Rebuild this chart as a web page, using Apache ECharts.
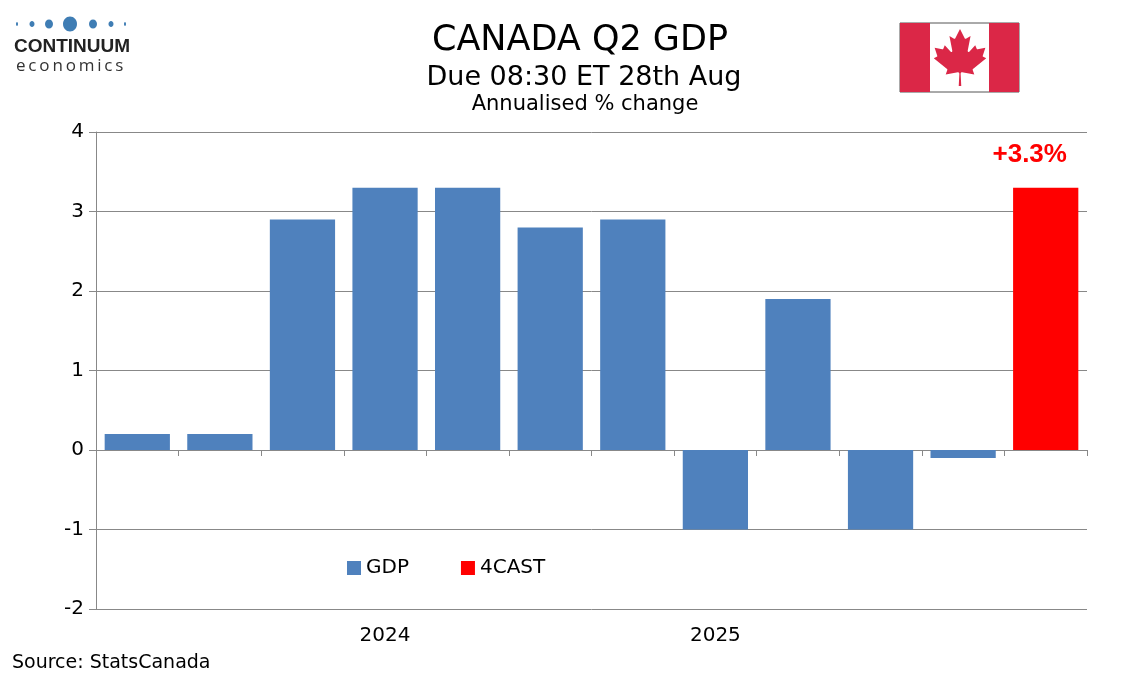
<!DOCTYPE html>
<html>
<head>
<meta charset="utf-8">
<script src="https://cdn.jsdelivr.net/npm/echarts@6/dist/echarts.min.js"></script>
<style>
  html, body { margin: 0; padding: 0; background: #fff; }
  #main { width: 1134px; height: 680px; }
</style>
</head>
<body>
<div id="main"></div>
<script>
// quarterly annualised GDP, last bar is the forecast
var yearLabels = ['', '', '', '2024', '', '', '', '2025', '', '', '', ''];
var gdp = [0.2, 0.2, 2.9, 3.3, 3.3, 2.8, 2.9, -1.0, 1.9, -1.0, -0.1, null];
var forecast = [null, null, null, null, null, null, null, null, null, null, null, 3.3];

var FONT = 'DejaVu Sans';
var leaf = 'm-90 2030 45-863a95 95 0 0 0-111-98l-859 151 116-320a65 65 0 0 0-20-73l-941-762 212-99a65 65 0 0 0 34-79l-186-572 542 115a65 65 0 0 0 73-38l105-247 423 454a65 65 0 0 0 111-57l-204-1052 327 189a65 65 0 0 0 91-27l332-652 332 652a65 65 0 0 0 91 27l327-189-204 1052a65 65 0 0 0 111 57l423-454 105 247a65 65 0 0 0 73 38l542-115-186 572a65 65 0 0 0 34 79l212 99-941 762a65 65 0 0 0-20 73l116 320-859-151a95 95 0 0 0-111 98l45 863z';

echarts.graphic.registerShape('mapleLeaf', echarts.graphic.extendPath(leaf, {}));

window.onload = function () {
  var myChart = echarts.init(document.getElementById('main'));

  var logoDots = [[17, 1, 2], [32, 2.5, 3], [49, 4, 4.5], [70, 7, 7.5], [93, 4, 4.5], [111, 2.5, 3], [125, 1, 2]];
  var graphics = logoDots.map(function (d) {
    return { type: 'ellipse', shape: { cx: d[0], cy: 24, rx: d[1], ry: d[2] }, style: { fill: '#3F7DB4' } };
  });
  function mid(x, y, txt, font, align) {
    return { type: 'text', x: x, y: y, style: { text: txt, font: font, fill: '#000', align: align || 'center', verticalAlign: 'middle' } };
  }
  graphics.push(
    { type: 'text', x: 14, y: 47, style: { text: 'CONTINUUM', font: 'bold 19px "Liberation Sans"', fill: '#222', verticalAlign: 'middle' } },
    { type: 'text', x: 16, y: 66, style: { text: 'e\u2009c\u2009o\u2009n\u2009o\u2009m\u2009i\u2009c\u2009s', font: '17px "Open Sans"', fill: '#333', verticalAlign: 'middle' } },
    // titles
    mid(580, 40.5, 'CANADA Q2 GDP', '35px ' + FONT),
    mid(584, 78, 'Due 08:30 ET 28th Aug', '27px ' + FONT),
    mid(585, 104.5, 'Annualised % change', '21px ' + FONT),
    // flag
    { type: 'rect', shape: { x: 900, y: 23, width: 119, height: 69 }, style: { fill: '#fff', stroke: '#555', lineWidth: 1 } },
    { type: 'rect', shape: { x: 900, y: 23, width: 30, height: 69 }, style: { fill: '#DB2747' } },
    { type: 'rect', shape: { x: 989, y: 23, width: 30, height: 69 }, style: { fill: '#DB2747' } },
    { type: 'mapleLeaf', x: 960, y: 57.3, scaleX: 0.0141, scaleY: 0.0141, style: { fill: '#DB2747' } },
    // source
    mid(12, 663, 'Source: StatsCanada', '19px ' + FONT, 'left')
  );

  var option = {
    animation: false,
    backgroundColor: '#fff',
    textStyle: { fontFamily: FONT },
    grid: { left: 96, right: 47, top: 132, bottom: 71, containLabel: false },
    legend: {
      left: 342, top: 553,
      icon: 'rect', itemWidth: 14, itemHeight: 14, itemGap: 52,
      textStyle: { fontSize: 20, color: '#000', fontFamily: FONT },
      data: ['GDP', '4CAST']
    },
    xAxis: [
      {
        type: 'category', data: yearLabels,
        axisLine: { onZero: true, lineStyle: { color: '#888', width: 1 } },
        axisTick: { show: true, length: 6, lineStyle: { color: '#888' } },
        axisLabel: { show: false },
        splitLine: { show: false }
      },
      {
        type: 'category', data: yearLabels, position: 'bottom',
        axisLine: { show: false }, axisTick: { show: false },
        axisLabel: { show: true, interval: 0, fontSize: 20, color: '#000', margin: 17, fontFamily: FONT }
      }
    ],
    yAxis: {
      type: 'value', min: -2, max: 4, interval: 1,
      axisLine: { show: true, lineStyle: { color: '#888' } },
      axisTick: { show: true, length: 7, lineStyle: { color: '#888' } },
      axisLabel: { fontSize: 20, color: '#000', margin: 12, fontFamily: FONT },
      splitLine: { lineStyle: { color: '#888', width: 1 } }
    },
    series: [
      {
        name: 'GDP', type: 'bar', data: gdp,
        barCategoryGap: '21%', barGap: '-100%',
        itemStyle: { color: '#4F81BD' }
      },
      {
        name: '4CAST', type: 'bar', data: forecast,
        barCategoryGap: '21%', barGap: '-100%',
        itemStyle: { color: '#FF0000' },
        label: {
          show: true, position: 'top', offset: [-16, -15],
          formatter: function (p) { return '+' + p.value.toFixed(1) + '%'; },
          color: '#FF0000', fontSize: 26, fontWeight: 'bold', fontFamily: 'Liberation Sans'
        }
      }
    ],
    graphic: graphics
  };

  myChart.setOption(option);
};
</script>
</body>
</html>
